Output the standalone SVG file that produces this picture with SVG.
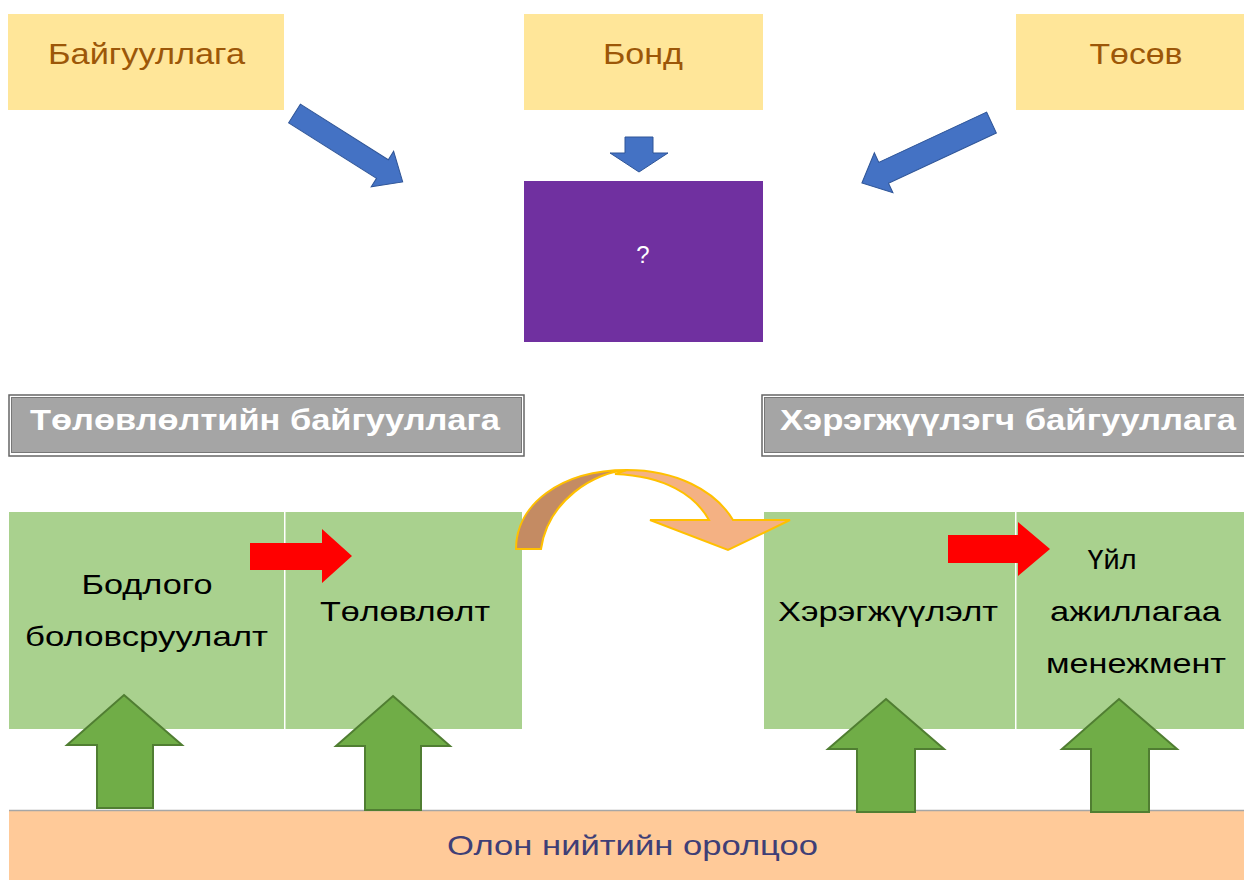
<svg xmlns="http://www.w3.org/2000/svg" width="1244" height="880" viewBox="0 0 1244 880">
<style>
.src{fill:#FFE699}
.srct{font-family:"Liberation Sans",Arial,sans-serif;font-size:30px;fill:#9C5708;text-anchor:middle}
.blue{fill:#4472C4;stroke:#2F5597;stroke-width:1}
.green{fill:#A9D18E}
.gt{font-family:"Liberation Sans",Arial,sans-serif;font-size:28px;fill:#000;text-anchor:middle}
.hdr{font-family:"Liberation Sans",Arial,sans-serif;font-size:30px;font-weight:bold;fill:#fff;text-anchor:middle}
.up{fill:#70AD47;stroke:#507E32;stroke-width:2}
.red{fill:#FF0000}
</style>
<rect width="1244" height="880" fill="#fff"/>
<g id="n-org"><rect class="src" x="8" y="14" width="276" height="96"/><text class="srct" x="146.5" y="64" textLength="197" lengthAdjust="spacingAndGlyphs">Байгууллага</text></g>
<g id="n-bond"><rect class="src" x="524" y="14" width="239" height="96"/><text class="srct" x="643" y="64" textLength="80" lengthAdjust="spacingAndGlyphs">Бонд</text></g>
<g id="n-budget"><rect class="src" x="1016" y="14" width="228" height="96"/><text class="srct" x="1136" y="64" textLength="93" lengthAdjust="spacingAndGlyphs">Төсөв</text></g>
<g id="n-q"><rect x="524" y="181" width="239" height="161" fill="#7030A0"/><text x="643" y="263" font-family="Liberation Sans,Arial,sans-serif" font-size="24" fill="#fff" text-anchor="middle">?</text></g>
<g id="h-left">
<rect x="9" y="395" width="515" height="61" fill="#fff" stroke="#666" stroke-width="1.5"/>
<rect x="11.5" y="397.5" width="510" height="55" fill="#A5A5A5" stroke="#777" stroke-width="1"/>
<text class="hdr" x="265" y="430" textLength="470" lengthAdjust="spacingAndGlyphs">Төлөвлөлтийн байгууллага</text>
</g>
<g id="h-right">
<rect x="762" y="395" width="490" height="61" fill="#fff" stroke="#666" stroke-width="1.5"/>
<rect x="764.5" y="397.5" width="485" height="55" fill="#A5A5A5" stroke="#777" stroke-width="1"/>
<text class="hdr" x="1008" y="430" textLength="456" lengthAdjust="spacingAndGlyphs">Хэрэгжүүлэгч байгууллага</text>
</g>
<g id="n-policy"><rect class="green" x="9" y="512" width="275" height="217"/><text class="gt" x="147" y="594" textLength="131" lengthAdjust="spacingAndGlyphs">Бодлого</text><text class="gt" x="146.5" y="646" textLength="243" lengthAdjust="spacingAndGlyphs">боловсруулалт</text></g>
<g id="n-plan"><rect class="green" x="285.5" y="512" width="236.5" height="217"/><text class="gt" x="405" y="621" textLength="170" lengthAdjust="spacingAndGlyphs">Төлөвлөлт</text></g>
<g id="n-impl"><rect class="green" x="764" y="512" width="251" height="217"/><text class="gt" x="888" y="621" textLength="220" lengthAdjust="spacingAndGlyphs">Хэрэгжүүлэлт</text></g>
<g id="n-ops"><rect class="green" x="1016.5" y="512" width="227.5" height="217"/><text class="gt" x="1112" y="569" textLength="49" lengthAdjust="spacingAndGlyphs">Үйл</text><text class="gt" x="1135.5" y="621" textLength="171" lengthAdjust="spacingAndGlyphs">ажиллагаа</text><text class="gt" x="1136" y="673" textLength="180" lengthAdjust="spacingAndGlyphs">менежмент</text></g>
<g id="n-public"><rect x="9" y="810" width="1235" height="70" fill="#FFCA99"/><line x1="9" y1="810.5" x2="1244" y2="810.5" stroke="#A6A6A6" stroke-width="1.5"/><text x="632.5" y="855" font-family="Liberation Sans,Arial,sans-serif" font-size="28" fill="#3F3F76" text-anchor="middle" textLength="371" lengthAdjust="spacingAndGlyphs">Олон нийтийн оролцоо</text></g>
<g id="connectors">
<polygon class="blue" transform="translate(294.5,113.5) rotate(32.3)" points="0,-11 104,-11 104,-21 128,0 104,21 104,11 0,11"/>
<polygon class="blue" transform="translate(991.5,122.5) rotate(155)" points="0,-11.5 119,-11.5 119,-22 143,0 119,22 119,11.5 0,11.5"/>
<polygon class="blue" points="625,137 653,137 653,153 668,153 639,172 610,153 625,153"/>
<polygon class="red" points="250,543 322,543 322,529 352,556 322,583 322,570 250,570"/>
<polygon class="red" points="948,535 1018,535 1018,522 1050,549 1018,576 1018,563 948,563"/>
<path d="M627,470 C675,470 715,490 733,520 L790,520 L728,550 L650,520 L709,520 C695,495 665,476 615,474 Z" fill="#F4B183" stroke="#FFC000" stroke-width="2" stroke-linejoin="miter"/>
<path d="M516,549 C516,505 560,470 627,470 C595,472 548,500 541,549 Z" fill="#C48B63" stroke="#FFC000" stroke-width="2"/>
<polygon class="up" points="124,695 182,745 153,745 153,808 97,808 97,745 67,745"/>
<polygon class="up" points="393,696 450,746 421,746 421,810 365,810 365,746 336,746"/>
<polygon class="up" points="886,699 944,749 915,749 915,812 857,812 857,749 828,749"/>
<polygon class="up" points="1119,699 1177,749 1149,749 1149,812 1091,812 1091,749 1062,749"/>
</g>
</svg>
